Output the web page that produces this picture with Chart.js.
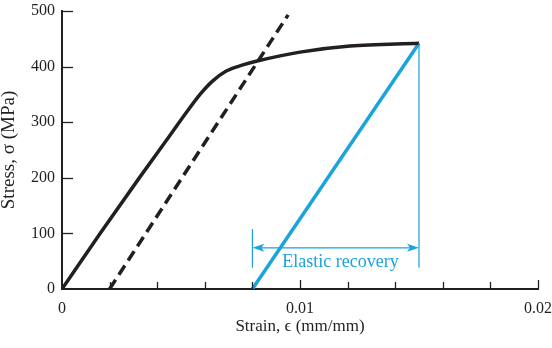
<!DOCTYPE html>
<html>
<head>
<meta charset="utf-8">
<script src="https://cdn.jsdelivr.net/npm/chart.js@4"></script>
<style>
  body { margin: 0; background: #fff; }
  canvas { display: block; }
</style>
</head>
<body>
<canvas id="myChart" width="552" height="348"></canvas>
<script>
// Krivka napätia a deformácie (strain, stress)
const curveStrain = [0, 0.0016, 0.0033, 0.0046, 0.0052, 0.0058, 0.0063, 0.0069, 0.0076, 0.0082, 0.0100, 0.0121, 0.0150];
const curveStress = [0, 100, 203, 280, 316, 350, 373, 392, 403, 410, 426, 437, 442];

// Čiarkovaná priamka (offset 0.002)
const offsetStrain = [0.002, 0.0095];
const offsetStress = [0, 493];

// Elastické odľahčenie
const unloadStrain = [0.008, 0.015];
const unloadStress = [0, 442];

// Kóta "Elastic recovery"
const recoveryLabel = 'Elastic recovery';
const recoveryArrowStress = 74;
const recoveryLeftTop = 108;
const recoveryLineBottom = 38;
const recoveryTextAt = [0.0117, 40];

const xLabeled = [0, 0.01, 0.02];

const black = '#231f20';
const blue = '#1ba3dc';
const serif = "'Liberation Serif', 'DejaVu Serif', serif";

const toPoints = (xs, ys) => xs.map((x, i) => ({ x: x, y: ys[i] }));
const isLabeled = v => xLabeled.some(l => Math.abs(l - v) < 1e-9);

// Ticky dovnútra grafu + kóta s šípkami
const extras = {
    id: 'extras',
    afterDraw(chart) {
        const ctx = chart.ctx;
        const xs = chart.scales.x;
        const ys = chart.scales.y;
        const y0 = ys.getPixelForValue(0);
        const x0 = xs.getPixelForValue(0);

        ctx.save();
        ctx.strokeStyle = black;
        ctx.lineWidth = 1.3;
        xs.ticks.forEach(t => {
            if (t.value === 0) return;
            const px = Math.round(xs.getPixelForValue(t.value)) + 0.5;
            const len = isLabeled(t.value) ? 9 : 7;
            ctx.beginPath();
            ctx.moveTo(px, y0);
            ctx.lineTo(px, y0 - len);
            ctx.stroke();
        });
        ys.ticks.forEach(t => {
            if (t.value === 0) return;
            const py = Math.round(ys.getPixelForValue(t.value)) + 0.5;
            ctx.beginPath();
            ctx.moveTo(x0, py);
            ctx.lineTo(x0 + 11, py);
            ctx.stroke();
        });

        // kóta
        const xl = xs.getPixelForValue(unloadStrain[0]);
        const xr = xs.getPixelForValue(unloadStrain[1]);
        const ya = ys.getPixelForValue(recoveryArrowStress);
        ctx.strokeStyle = blue;
        ctx.fillStyle = blue;
        ctx.lineWidth = 1.2;
        ctx.beginPath();
        ctx.moveTo(xl, ys.getPixelForValue(recoveryLeftTop));
        ctx.lineTo(xl, ys.getPixelForValue(recoveryLineBottom));
        ctx.moveTo(xr, ys.getPixelForValue(unloadStress[1]));
        ctx.lineTo(xr, ys.getPixelForValue(recoveryLineBottom));
        ctx.moveTo(xl + 8, ya);
        ctx.lineTo(xr - 8, ya);
        ctx.stroke();

        const head = 12, half = 4;
        ctx.beginPath();
        ctx.moveTo(xl, ya);
        ctx.lineTo(xl + head, ya - half);
        ctx.lineTo(xl + head - 3, ya);
        ctx.lineTo(xl + head, ya + half);
        ctx.closePath();
        ctx.fill();
        ctx.beginPath();
        ctx.moveTo(xr, ya);
        ctx.lineTo(xr - head, ya - half);
        ctx.lineTo(xr - head + 3, ya);
        ctx.lineTo(xr - head, ya + half);
        ctx.closePath();
        ctx.fill();

        ctx.font = '18px ' + serif;
        ctx.textAlign = 'center';
        ctx.textBaseline = 'alphabetic';
        ctx.fillText(recoveryLabel, xs.getPixelForValue(recoveryTextAt[0]), ys.getPixelForValue(recoveryTextAt[1]));
        ctx.restore();
    }
};

const ctx = document.getElementById('myChart').getContext('2d');

new Chart(ctx, {
    type: 'line',
    data: {
        datasets: [
            {
                data: toPoints(curveStrain, curveStress),
                borderColor: black,
                borderWidth: 3.5,
                cubicInterpolationMode: 'monotone',
                pointRadius: 0,
                fill: false
            },
            {
                data: toPoints(offsetStrain, offsetStress),
                borderColor: black,
                borderWidth: 3.5,
                borderDash: [11, 6],
                pointRadius: 0,
                fill: false
            },
            {
                data: toPoints(unloadStrain, unloadStress),
                borderColor: blue,
                borderWidth: 3.5,
                pointRadius: 0,
                fill: false
            }
        ]
    },
    options: {
        responsive: false,
        animation: false,
        layout: { padding: { top: 11, right: 14, left: 0, bottom: 0 } },
        plugins: { legend: { display: false }, tooltip: { enabled: false } },
        scales: {
            x: {
                type: 'linear',
                min: 0,
                max: 0.02,
                afterFit: s => {
                    s.height = 59;
                    s.paddingLeft = 0;
                    s.paddingRight = 0;
                },
                grid: { drawOnChartArea: false, drawTicks: false },
                border: { color: black, width: 2 },
                ticks: {
                    stepSize: 0.002,
                    autoSkip: false,
                    maxRotation: 0,
                    padding: 10,
                    color: black,
                    font: { family: serif, size: 16 },
                    callback: v => isLabeled(v) ? String(Math.round(v * 100) / 100) : ''
                },
                title: {
                    display: true,
                    text: 'Strain, ϵ (mm/mm)',
                    color: black,
                    font: { family: serif, size: 17 },
                    padding: { top: 0, bottom: 11 }
                }
            },
            y: {
                min: 0,
                max: 500,
                afterFit: s => {
                    s.width = 62;
                    s.paddingTop = 0;
                    s.paddingBottom = 0;
                },
                grid: { drawOnChartArea: false, drawTicks: false },
                border: { color: black, width: 2 },
                ticks: {
                    stepSize: 100,
                    padding: 7,
                    color: black,
                    font: { family: serif, size: 16 }
                },
                title: {
                    display: true,
                    text: 'Stress, σ (MPa)',
                    color: black,
                    font: { family: serif, size: 19, lineHeight: 1 },
                    padding: 0
                }
            }
        }
    },
    plugins: [extras]
});
</script>
</body>
</html>
